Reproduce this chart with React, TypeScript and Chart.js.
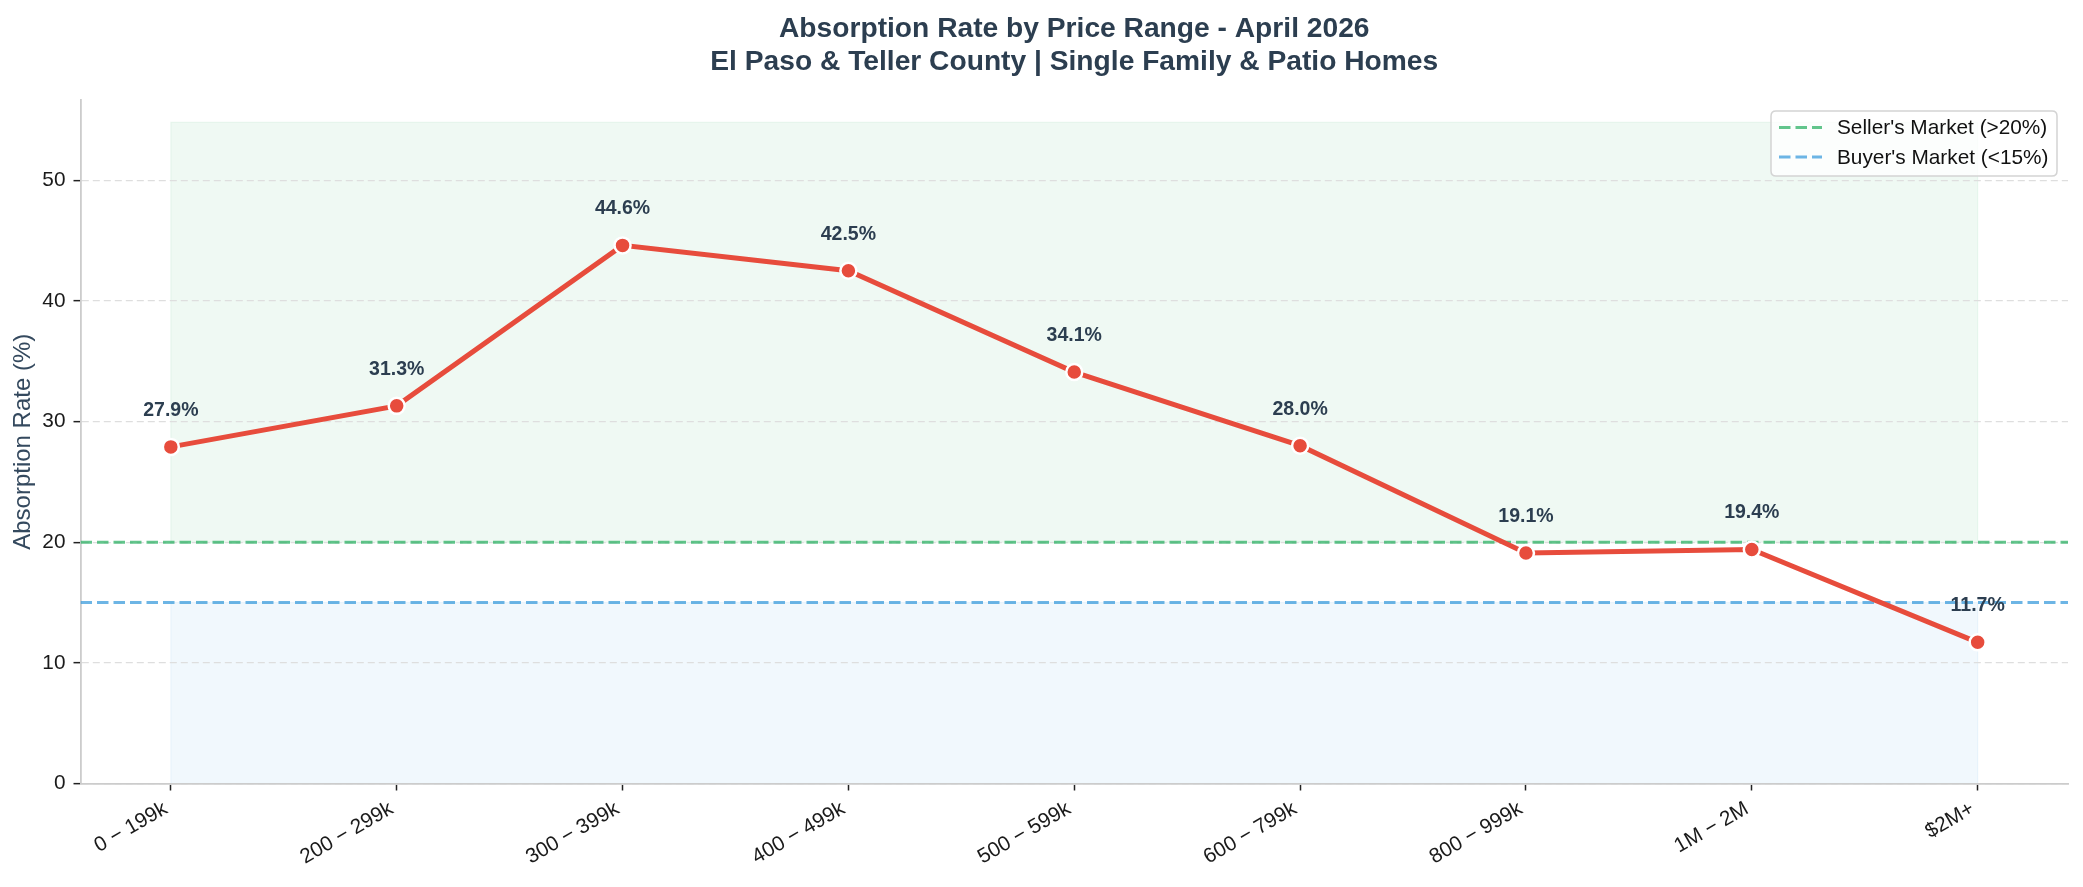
import { useEffect, useRef } from 'react';
import { Chart, registerables } from 'chart.js';

Chart.register(...registerables);

// ---------- data ----------
const CATEGORIES = [
  '0 − 199k',
  '200 − 299k',
  '300 − 399k',
  '400 − 499k',
  '500 − 599k',
  '600 − 799k',
  '800 − 999k',
  '1M − 2M',
  '$2M+',
];
const ABSORPTION = [27.9, 31.3, 44.6, 42.5, 34.1, 28.0, 19.1, 19.4, 11.7];
const Y_TICKS = [0, 10, 20, 30, 40, 50];
const SELLER_THRESHOLD = 20;
const BUYER_THRESHOLD = 15;
const SELLER_SPAN_TOP = 54.8;
const Y_MAX = 56.65;
const TITLE_LINES = [
  'Absorption Rate by Price Range - April 2026',
  'El Paso & Teller County | Single Family & Patio Homes',
];
const Y_TITLE = 'Absorption Rate (%)';
const LEGEND_LABELS = ["Seller's Market (>20%)", "Buyer's Market (<15%)"];

const FONT = "'Liberation Sans', Arial, Helvetica, sans-serif";
const RED = '#e74c3c';
const DARK = '#2c3e50';
const GREEN_LINE = 'rgba(39,174,96,0.72)';
const BLUE_LINE = 'rgba(52,152,219,0.72)';
const GREEN_SPAN = 'rgba(39,174,96,0.075)';
const BLUE_SPAN = 'rgba(52,152,219,0.065)';

export default function App() {
  const ref = useRef<HTMLCanvasElement | null>(null);

  useEffect(() => {
    document.body.style.margin = '0';
    const canvas = ref.current!;
    const n = ABSORPTION.length;

    const spansPlugin = {
      id: 'spans',
      beforeDraw(chart: any) {
        const { ctx } = chart;
        const xs = chart.scales.x;
        const ys = chart.scales.y;
        ctx.save();
        ctx.fillStyle = '#ffffff';
        ctx.fillRect(0, 0, chart.width, chart.height);
        const x0 = xs.getPixelForValue(0);
        const x1 = xs.getPixelForValue(n - 1);
        const drawSpan = (lo: number, hi: number, color: string) => {
          const yTop = ys.getPixelForValue(hi);
          const yBot = ys.getPixelForValue(lo);
          ctx.fillStyle = color;
          ctx.fillRect(x0, yTop, x1 - x0, yBot - yTop);
          ctx.strokeStyle = color;
          ctx.lineWidth = 1.2;
          ctx.strokeRect(x0, yTop, x1 - x0, yBot - yTop);
        };
        drawSpan(SELLER_THRESHOLD, SELLER_SPAN_TOP, GREEN_SPAN);
        drawSpan(0, BUYER_THRESHOLD, BLUE_SPAN);
        ctx.restore();
      },
    };

    const labelsPlugin = {
      id: 'labels',
      afterDatasetsDraw(chart: any) {
        const { ctx } = chart;
        const meta = chart.getDatasetMeta(0);
        ctx.save();
        ctx.font = `bold 19.5px ${FONT}`;
        ctx.fillStyle = DARK;
        ctx.textAlign = 'center';
        ctx.textBaseline = 'alphabetic';
        meta.data.forEach((pt: any, i: number) => {
          ctx.fillText(`${ABSORPTION[i].toFixed(1)}%`, pt.x, pt.y - 31);
        });

        // legend
        const bx = 1771, by = 111, bw = 286, bh = 65, r = 5;
        ctx.beginPath();
        ctx.moveTo(bx + r, by);
        ctx.lineTo(bx + bw - r, by);
        ctx.quadraticCurveTo(bx + bw, by, bx + bw, by + r);
        ctx.lineTo(bx + bw, by + bh - r);
        ctx.quadraticCurveTo(bx + bw, by + bh, bx + bw - r, by + bh);
        ctx.lineTo(bx + r, by + bh);
        ctx.quadraticCurveTo(bx, by + bh, bx, by + bh - r);
        ctx.lineTo(bx, by + r);
        ctx.quadraticCurveTo(bx, by, bx + r, by);
        ctx.closePath();
        ctx.fillStyle = 'rgba(255,255,255,0.8)';
        ctx.fill();
        ctx.strokeStyle = '#d4d4d4';
        ctx.lineWidth = 1.5;
        ctx.stroke();

        const rows = [
          { label: LEGEND_LABELS[0], color: GREEN_LINE, y: 127.5 },
          { label: LEGEND_LABELS[1], color: BLUE_LINE, y: 157 },
        ];
        rows.forEach((row) => {
          ctx.beginPath();
          ctx.setLineDash([11.5, 5]);
          ctx.strokeStyle = row.color;
          ctx.lineWidth = 3;
          ctx.moveTo(1779, row.y);
          ctx.lineTo(1822, row.y);
          ctx.stroke();
          ctx.setLineDash([]);
          ctx.font = `20.8px ${FONT}`;
          ctx.fillStyle = '#111111';
          ctx.textAlign = 'left';
          ctx.textBaseline = 'middle';
          ctx.fillText(row.label, 1837, row.y + 1);
        });
        ctx.restore();
      },
      afterDraw(chart: any) {
        const { ctx, chartArea } = chart;
        const cx = (chartArea.left + chartArea.right) / 2;
        ctx.save();
        ctx.font = `bold 28.2px ${FONT}`;
        ctx.fillStyle = DARK;
        ctx.textAlign = 'center';
        ctx.textBaseline = 'alphabetic';
        ctx.fillText(TITLE_LINES[0], cx, 36.5);
        ctx.fillText(TITLE_LINES[1], cx, 69.5);
        ctx.restore();
      },
    };

    const chart = new Chart(canvas, {
      type: 'line',
      data: {
        datasets: [
          {
            label: 'Absorption Rate',
            data: ABSORPTION.map((v, i) => ({ x: i, y: v })),
            borderColor: RED,
            borderWidth: 5,
            pointRadius: 8,
            pointBackgroundColor: RED,
            pointBorderColor: '#ffffff',
            pointBorderWidth: 2.5,
            tension: 0,
            order: 0,
          },
          {
            label: LEGEND_LABELS[0],
            data: [
              { x: -0.4, y: SELLER_THRESHOLD },
              { x: n - 1 + 0.4, y: SELLER_THRESHOLD },
            ],
            borderColor: GREEN_LINE,
            borderWidth: 3,
            borderDash: [11.5, 5],
            pointRadius: 0,
            order: 1,
          },
          {
            label: LEGEND_LABELS[1],
            data: [
              { x: -0.4, y: BUYER_THRESHOLD },
              { x: n - 1 + 0.4, y: BUYER_THRESHOLD },
            ],
            borderColor: BLUE_LINE,
            borderWidth: 3,
            borderDash: [11.5, 5],
            pointRadius: 0,
            order: 1,
          },
        ],
      },
      options: {
        responsive: false,
        animation: false,
        devicePixelRatio: 1,
        layout: { padding: { top: 100, right: 15, left: 0, bottom: 0 } },
        plugins: {
          legend: { display: false },
          title: { display: false },
          tooltip: { enabled: false },
        },
        scales: {
          x: {
            type: 'linear',
            min: -0.4,
            max: n - 1 + 0.4,
            afterBuildTicks: (scale: any) => {
              scale.ticks = CATEGORIES.map((_, i) => ({ value: i }));
            },
            afterFit: (scale: any) => {
              scale.height = 103.5;
            },
            ticks: {
              autoSkip: false,
              minRotation: 30,
              maxRotation: 30,
              padding: 6,
              labelOffset: -5,
              color: '#1a1a1a',
              font: { family: FONT, size: 20.8 },
              callback: (value: any) => CATEGORIES[Math.round(value)] ?? '',
            },
            grid: {
              drawOnChartArea: false,
              drawTicks: true,
              tickLength: 7,
              tickColor: '#222222',
              tickWidth: 1.5,
            },
            border: { color: '#cccccc', width: 1.8 },
          },
          y: {
            type: 'linear',
            min: 0,
            max: Y_MAX,
            afterBuildTicks: (scale: any) => {
              scale.ticks = Y_TICKS.map((v) => ({ value: v }));
            },
            afterFit: (scale: any) => {
              scale.width = 80.5;
            },
            ticks: {
              padding: 8,
              color: '#1a1a1a',
              font: { family: FONT, size: 20.8 },
              callback: (value: any) => String(value),
            },
            grid: {
              color: '#dedede',
              lineWidth: 1.3,
              tickLength: 7,
              tickColor: '#222222',
              tickWidth: 1.5,
              tickBorderDash: [],
            },
            border: { color: '#cccccc', width: 1.8, dash: [7, 4] },
            title: {
              display: true,
              text: Y_TITLE,
              color: '#34495e',
              font: { family: FONT, size: 24 },
              padding: { top: 9, bottom: 0 },
            },
          },
        },
      },
      plugins: [spansPlugin, labelsPlugin],
    } as any);

    return () => chart.destroy();
  }, []);

  return (
    <div style={{ width: 2083, height: 887 }}>
      <canvas ref={ref} width={2083} height={887} style={{ display: 'block' }} />
    </div>
  );
}
